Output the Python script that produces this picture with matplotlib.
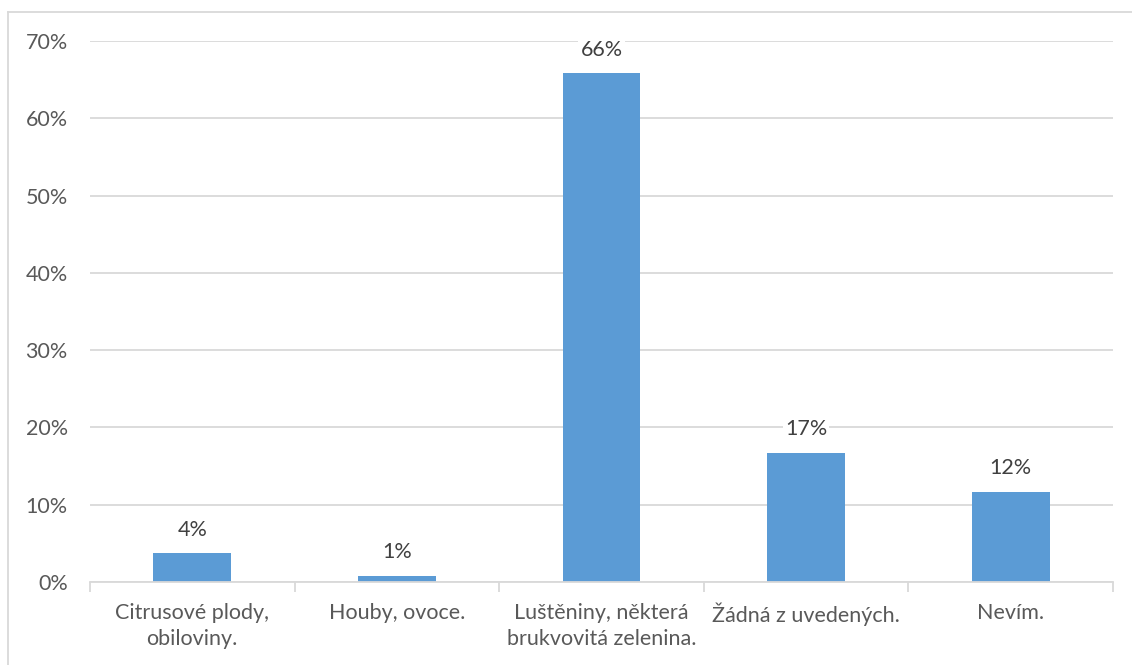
import matplotlib
matplotlib.use("Agg")
import matplotlib.pyplot as plt
from matplotlib.lines import Line2D
from matplotlib.ticker import FuncFormatter

# Answers and share of respondents
categories = [
    "Citrusové plody,\nobiloviny.",
    "Houby, ovoce.",
    "Luštěniny, některá\nbrukvovitá zelenina.",
    "Žádná z uvedených.",
    "Nevím.",
]
shares = [0.037, 0.008, 0.658, 0.167, 0.117]
y_ticks = [0.0, 0.1, 0.2, 0.3, 0.4, 0.5, 0.6, 0.7]

text_color = "#595959"
grid_color = "#d9d9d9"
bar_color = "#5b9bd5"
fs = 15.5

plt.rcParams["font.family"] = ["Lato", "DejaVu Sans"]

W, H = 1132, 665
fig = plt.figure(figsize=(W / 100, H / 100), dpi=100)
ax = fig.add_axes([90 / W, (H - 582) / H, (1113 - 90) / W, (582 - 41) / H])

x = list(range(len(categories)))
bars = ax.bar(x, shares, width=0.38, color=bar_color, zorder=2)

for b, v in zip(bars, shares):
    ax.annotate(f"{round(v * 100):.0f}%", (b.get_x() + b.get_width() / 2, v),
                xytext=(0, 10), textcoords="offset points", ha="center", va="bottom",
                fontsize=fs, color="#404040", zorder=3,
                bbox=dict(boxstyle="square,pad=0.1", fc="white", ec="none"))

ax.set_xlim(-0.5, len(categories) - 0.5)
ax.set_ylim(0, 0.7)
ax.set_yticks(y_ticks)
ax.yaxis.set_major_formatter(FuncFormatter(lambda v, _: f"{v * 100:.0f}%"))
ax.yaxis.grid(True, color=grid_color, linewidth=1.3, zorder=0)
ax.set_axisbelow(True)

ax.set_xticks(x)
ax.set_xticklabels(categories, fontsize=fs, color=text_color, linespacing=1.4)
ax.set_xticks([i - 0.5 for i in range(len(categories) + 1)], minor=True)
ax.tick_params(axis="x", which="major", length=0, pad=15)
ax.tick_params(axis="x", which="minor", length=7, width=1.3, color=grid_color)
ax.tick_params(axis="y", length=0, pad=16, labelsize=fs, labelcolor=text_color)

for side in ["top", "right", "left"]:
    ax.spines[side].set_visible(False)
ax.spines["bottom"].set_color(grid_color)
ax.spines["bottom"].set_linewidth(1.3)

# chart frame (top and left edges)
fig.add_artist(Line2D([8 / W, 1], [1 - 12 / H, 1 - 12 / H], color=grid_color, lw=1.3))
fig.add_artist(Line2D([8 / W, 8 / W], [0, 1 - 12 / H], color=grid_color, lw=1.3))

fig.savefig("out.png", dpi=100, facecolor="white")
